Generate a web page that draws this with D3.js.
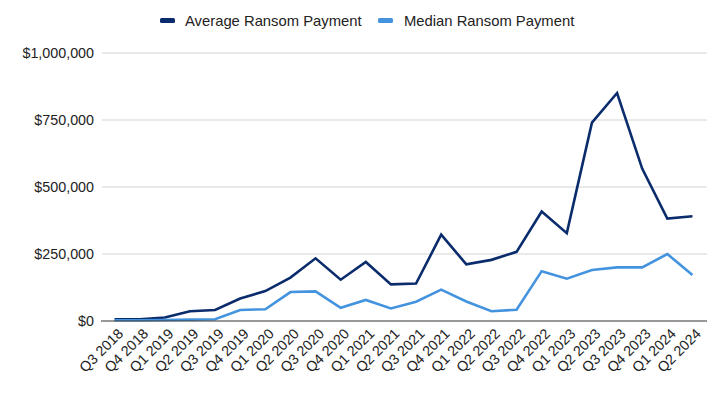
<!DOCTYPE html>
<html><head><meta charset="utf-8">
<script src="https://cdn.jsdelivr.net/npm/d3@7"></script>
<style>body{margin:0;background:#fff}svg{display:block}text{font-family:"Liberation Sans",Arial,sans-serif}</style>
</head><body>
<svg id="c" width="728" height="396"></svg>
<script>
const categories = ["Q3 2018","Q4 2018","Q1 2019","Q2 2019","Q3 2019","Q4 2019","Q1 2020","Q2 2020","Q3 2020","Q4 2020","Q1 2021","Q2 2021","Q3 2021","Q4 2021","Q1 2022","Q2 2022","Q3 2022","Q4 2022","Q1 2023","Q2 2023","Q3 2023","Q4 2023","Q1 2024","Q2 2024"];
const averagePayment = [5973,6733,12762,36295,41198,84116,111605,162000,233817,154108,220298,136576,139739,322168,211529,228125,258143,408644,327883,740144,850700,568705,381980,391015];
const medianPayment = [3000,3000,4000,5000,6700,41179,44021,108000,110532,49450,78398,47008,71674,117116,73000,36360,41987,185972,158000,190000,200000,200000,250000,172000];
const yTicks = [0,250000,500000,750000,1000000];
const seriesNames = ["Average Ransom Payment","Median Ransom Payment"];
const colors = ["#0b2c6c","#4493de"];

const svg = d3.select("#c");
const m = {l:102, r:705, t:53, b:321};
const x = d3.scaleBand().domain(categories).range([m.l, m.r]);
const y = d3.scaleLinear().domain([0,1000000]).range([m.b, m.t]);

// gridlines
svg.append("g").selectAll("line").data(yTicks.filter(d=>d>0)).join("line")
  .attr("x1", m.l).attr("x2", m.r+2).attr("y1", d=>y(d)).attr("y2", d=>y(d))
  .attr("stroke","#d4d4d4").attr("stroke-width",1);

// y labels
svg.append("g").selectAll("text").data(yTicks).join("text")
  .attr("x", 94).attr("y", d=>y(d)).attr("dy","0.35em").attr("text-anchor","end")
  .attr("font-size",14.3).attr("fill","#222")
  .text(d=>"$"+d3.format(",")(d));

// lines
const line = d3.line().x((d,i)=>x(categories[i])+x.bandwidth()/2).y(d=>y(d));
[averagePayment, medianPayment].forEach((s,k)=>{
  svg.append("path").datum(s).attr("d", line).attr("fill","none")
    .attr("stroke", colors[k]).attr("stroke-width",2.6).attr("stroke-linejoin","miter");
});

// x axis line
svg.append("line").attr("x1", m.l-1).attr("x2", m.r+2).attr("y1", y(0)).attr("y2", y(0))
  .attr("stroke","#333").attr("stroke-width",1.2);

// x labels
svg.append("g").selectAll("text").data(categories).join("text")
  .attr("transform", d=>`translate(${x(d)+x.bandwidth()/2+6},${y(0)+10}) rotate(-45)`)
  .attr("text-anchor","end").attr("dy","0.35em").attr("font-size",14.3).attr("fill","#222")
  .text(d=>d);

// legend
const lg = svg.append("g");
const leg = [{x:160, tx:185}, {x:378, tx:404}];
seriesNames.forEach((n,k)=>{
  lg.append("rect").attr("x", leg[k].x).attr("y", 18).attr("width",15).attr("height",5).attr("rx",1.5)
    .attr("fill", colors[k]);
  lg.append("text").attr("x", leg[k].tx).attr("y", 21).attr("dy","0.35em")
    .attr("font-size",14.8).attr("fill","#222").text(n);
});
</script>
</body></html>
